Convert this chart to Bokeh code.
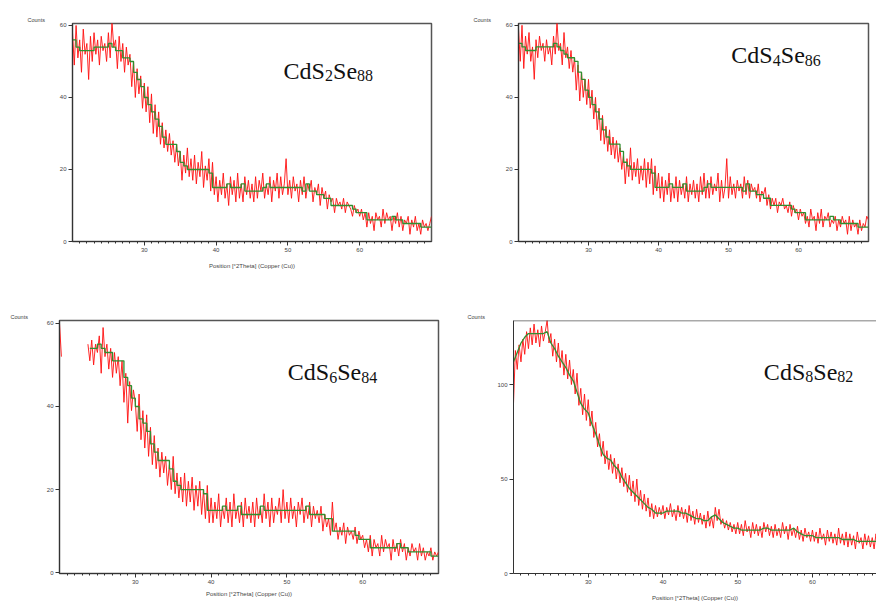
import numpy as np
from bokeh.plotting import figure
from bokeh.layouts import column, row
from bokeh.models import Range1d, FixedTicker, Label, Span, Title
from bokeh.embed import file_html
from bokeh.resources import INLINE

nan = float("nan")

# 2-theta scan grids (degrees)
two_theta = np.linspace(20, 70, 201)      # red raw scan, 0.25 deg step
two_theta_bg = np.linspace(20, 70, 101)   # green stepped profile, 0.5 deg step

x_major = [30, 40, 50, 60]
x_minor = list(range(21, 70))

samples = [("CdS", "2", "Se", "88"), ("CdS", "4", "Se", "86"),
           ("CdS", "6", "Se", "84"), ("CdS", "8", "Se", "82")]

counts_1 = [
    58, 49, 60, 51, 56, 47, 59, 52, 55, 45, 57, 50, 58, 52, 56, 49, 57, 53, 55, 50,
    58, 51, 61, 54, 56, 48, 57, 50, 55, 47, 54, 49, 52, 43, 50, 40, 48, 41, 46, 37,
    44, 36, 43, 33, 41, 30, 38, 29, 36, 27, 33, 26, 31, 25, 30, 24, 28, 22, 27, 21,
    25, 17, 24, 19, 26, 18, 23, 17, 24, 16, 22, 18, 25, 15, 21, 17, 23, 14, 22, 13,
    18, 11, 17, 13, 19, 12, 16, 10, 18, 13, 17, 11, 19, 12, 16, 11, 18, 13, 17, 12,
    16, 11, 18, 12, 17, 14, 19, 12, 16, 13, 18, 11, 17, 14, 19, 12, 18, 13, 16, 23,
    13, 17, 12, 18, 14, 16, 11, 17, 13, 18, 12, 16, 14, 17, 11, 15, 13, 16, 10, 15,
    12, 14, 9, 13, 11, 12, 8, 12, 10, 11, 9, 12, 8, 11, 10, 9, 7, 10, 8, 9,
    7, 9, 6, 8, 4, 8, 5, 7, 3, 8, 6, 7, 4, 9, 5, 8, 6, 7, 3, 7,
    5, 8, 4, 7, 3, 6, 5, 7, 2, 6, 4, 7, 3, 5, 2, 6, 4, 5, 3, 5,
    7]
bg_1 = [
    56, 54, 53, 53, 53, 53, 54, 54, 54, 54,
    55, 54, 53, 53, 51, 51, 50, 47, 45, 43,
    40, 38, 36, 34, 32, 29, 27, 27, 27, 25,
    22, 21, 20, 20, 20, 20, 20, 20, 19, 15,
    15, 15, 15, 16, 15, 15, 15, 16, 14, 14,
    14, 14, 14, 15, 16, 15, 15, 15, 15, 15,
    15, 15, 15, 15, 14, 16, 14, 14, 13, 13,
    12, 12, 10, 10, 10, 10, 10, 10, 9, 8,
    8, 8, 6, 6, 6, 6, 6, 6, 6, 7,
    6, 6, 5, 5, 5, 5, 5, 4, 4, 4,
    4]

counts_2 = [
    59, 50, 60, 48, 57, 52, 58, 50, 54, 45, 56, 51, 57, 53, 55, 50, 56, 52, 54, 49,
    57, 52, 61, 53, 55, 49, 58, 51, 54, 48, 53, 47, 51, 42, 49, 39, 47, 40, 45, 38,
    45, 37, 42, 34, 40, 31, 37, 28, 35, 27, 32, 25, 31, 24, 29, 23, 28, 22, 26, 20,
    24, 16, 23, 18, 26, 17, 22, 18, 23, 16, 21, 17, 23, 15, 22, 16, 23, 13, 21, 14,
    19, 12, 18, 11, 17, 13, 19, 11, 16, 12, 18, 11, 17, 13, 16, 12, 18, 11, 16, 13,
    17, 12, 16, 11, 18, 13, 19, 12, 17, 12, 18, 13, 16, 14, 19, 11, 17, 12, 15, 23,
    12, 18, 13, 16, 12, 17, 14, 16, 12, 18, 13, 17, 12, 16, 14, 15, 12, 16, 11, 14,
    13, 15, 10, 13, 9, 12, 10, 12, 8, 11, 10, 12, 9, 10, 8, 11, 7, 10, 8, 9,
    6, 9, 7, 8, 5, 7, 4, 9, 6, 7, 3, 8, 5, 9, 4, 7, 6, 8, 4, 6,
    5, 7, 3, 6, 4, 7, 5, 6, 2, 7, 3, 6, 4, 5, 2, 6, 3, 5, 4, 7,
    6]
bg_2 = [
    55, 54, 53, 53, 53, 54, 54, 54, 54, 54,
    55, 54, 53, 52, 51, 51, 50, 47, 45, 42,
    40, 38, 36, 34, 31, 29, 27, 27, 27, 25,
    22, 21, 20, 20, 20, 20, 20, 20, 19, 15,
    15, 15, 15, 16, 15, 15, 15, 16, 14, 14,
    14, 14, 14, 15, 16, 15, 15, 15, 15, 15,
    15, 15, 15, 15, 14, 16, 14, 14, 13, 13,
    12, 12, 10, 10, 10, 10, 10, 10, 9, 8,
    8, 8, 6, 6, 6, 6, 6, 6, 6, 7,
    6, 6, 5, 5, 5, 5, 5, 4, 4, 4,
    4]

counts_3 = [
    60, 52, nan, nan, nan, nan, nan, nan, nan, nan, nan, nan, nan, nan, nan, 55, 51, 56, 50, 55,
    53, 57, 48, 59, 52, 55, 49, 54, 47, 53, 48, 52, 45, 51, 41, 48, 36, 46, 39, 44,
    41, 34, 43, 32, 39, 30, 38, 28, 35, 26, 33, 25, 30, 23, 29, 24, 28, 21, 26, 20,
    28, 19, 24, 18, 23, 17, 24, 16, 22, 17, 23, 15, 21, 16, 22, 14, 20, 13, 21, 12,
    18, 12, 17, 13, 19, 11, 16, 13, 18, 12, 17, 11, 19, 13, 16, 12, 17, 11, 18, 13,
    16, 12, 17, 11, 18, 13, 16, 12, 19, 13, 17, 11, 18, 12, 16, 14, 18, 12, 20, 13,
    17, 12, 18, 13, 16, 11, 17, 14, 18, 12, 16, 13, 17, 11, 16, 13, 15, 12, 16, 10,
    14, 11, 13, 9, 17, 10, 12, 8, 11, 9, 12, 7, 11, 9, 10, 8, 11, 7, 10, 8,
    9, 6, 8, 5, 9, 4, 8, 6, 7, 4, 9, 5, 8, 6, 7, 3, 8, 5, 7, 4,
    8, 5, 7, 3, 6, 4, 7, 5, 6, 3, 7, 4, 6, 3, 5, 4, 6, 3, 5, 4,
    5]
bg_3 = [
    nan, nan, nan, nan, nan, nan, nan, nan, 54, 54,
    55, 54, 53, 53, 51, 51, 51, 47, 45, 42,
    40, 37, 36, 34, 31, 29, 27, 27, 27, 25,
    22, 21, 20, 20, 20, 20, 20, 20, 19, 15,
    15, 15, 15, 16, 15, 15, 15, 16, 14, 14,
    14, 14, 14, 16, 15, 15, 15, 15, 15, 15,
    15, 15, 15, 15, 15, 16, 14, 14, 14, 14,
    13, 13, 10, 10, 10, 10, 10, 10, 9, 8,
    8, 8, 6, 6, 6, 6, 6, 6, 6, 7,
    6, 6, 5, 5, 5, 5, 5, 5, 4, 4,
    4]

counts_4 = [
    90, 118, 108, 121, 112, 124, 116, 128, 119, 130, 121, 132, 122, 129, 120, 131, 123, 128, 134, 122,
    127, 115, 124, 112, 122, 109, 118, 105, 116, 103, 113, 100, 108, 95, 106, 89, 98, 84, 95, 81,
    92, 78, 86, 72, 80, 67, 74, 62, 70, 58, 65, 55, 63, 53, 61, 50, 58, 48, 56, 46,
    53, 43, 52, 41, 49, 38, 50, 36, 44, 34, 42, 33, 40, 30, 37, 29, 36, 30, 35, 31,
    36, 29, 35, 31, 37, 30, 34, 28, 36, 30, 35, 29, 34, 27, 36, 28, 33, 26, 34, 27,
    32, 26, 31, 24, 33, 25, 30, 24, 35, 28, 34, 26, 29, 24, 28, 23, 27, 22, 26, 21,
    27, 21, 26, 20, 28, 22, 25, 19, 27, 21, 26, 20, 25, 19, 27, 22, 26, 20, 25, 19,
    26, 20, 24, 19, 27, 21, 25, 18, 26, 20, 24, 19, 25, 18, 23, 17, 24, 19, 22, 17,
    23, 17, 22, 16, 24, 18, 21, 15, 23, 17, 22, 16, 21, 15, 24, 16, 21, 15, 22, 14,
    21, 15, 20, 13, 22, 16, 19, 13, 21, 15, 20, 14, 19, 13, 21, 15, 19, 14, 20, 15,
    18]
bg_4 = [
    112, 117, 122, 125, 127, 127, 127, 127, 127, 128,
    122, 119, 115, 112, 109, 105, 102, 96, 90, 87,
    85, 79, 74, 68, 63, 61, 60, 57, 55, 51,
    48, 45, 43, 41, 39, 37, 35, 34, 32, 32,
    32, 33, 33, 33, 33, 32, 32, 31, 30, 29,
    29, 28, 28, 30, 31, 29, 27, 26, 25, 24,
    24, 23, 23, 23, 23, 23, 23, 24, 24, 23,
    23, 23, 23, 23, 23, 24, 22, 21, 20, 20,
    20, 19, 19, 19, 19, 19, 19, 19, 18, 18,
    18, 18, 17, 17, 17, 17, 17, 17, 17, 16,
    16]

RED = "#ff1010"
GREEN = "#2f8f2f"
AXIS = "#333333"


def panel(w, h, bl, br, bt, bb, xr, yr, yticks, counts, bg, sample,
          lab_xy, counts_pos, xlabel=True, label_standoff=8,
          smooth_bg=False, cut_right=False):
    p = figure(width=w, height=h, x_range=Range1d(*xr), y_range=Range1d(*yr),
               output_backend="svg", toolbar_location=None, tools="", title=None,
               min_border_left=bl, min_border_right=br,
               min_border_top=bt, min_border_bottom=bb)
    p.background_fill_color = "white"
    p.border_fill_color = "white"
    p.xgrid.visible = False
    p.ygrid.visible = False
    if cut_right:
        p.outline_line_color = None
        p.add_layout(Span(location=yr[1], dimension="width",
                          line_color="#555555", line_width=1.5))
    else:
        p.outline_line_color = "#555555"
        p.outline_line_width = 1.5

    p.xaxis.ticker = FixedTicker(ticks=x_major, minor_ticks=x_minor)
    p.yaxis.ticker = FixedTicker(ticks=yticks, minor_ticks=[])
    for ax in (p.xaxis, p.yaxis):
        ax.axis_line_color = AXIS
        ax.axis_line_width = 1
        ax.major_tick_line_color = AXIS
        ax.minor_tick_line_color = AXIS
        ax.major_tick_out = 4
        ax.major_tick_in = 0
        ax.minor_tick_out = 2
        ax.minor_tick_in = 0
        ax.major_label_text_font_size = "6px"
        ax.major_label_text_color = "#444444"
        ax.major_label_text_font = "Liberation Sans"
        ax.major_label_standoff = 2
    p.yaxis.minor_tick_line_color = None
    if xlabel:
        p.xaxis.axis_label = "Position [°2Theta] (Copper (Cu))"
        p.xaxis.axis_label_text_font_size = "6px"
        p.xaxis.axis_label_text_font_style = "normal"
        p.xaxis.axis_label_text_font = "Liberation Sans"
        p.xaxis.axis_label_text_color = "#444444"
        p.xaxis.axis_label_standoff = label_standoff

    p.line(two_theta, counts, line_color=RED, line_width=1, line_alpha=0.9)
    if smooth_bg:
        p.line(two_theta_bg, bg, line_color=GREEN, line_width=1.3)
    else:
        p.step(two_theta_bg, bg, line_color=GREEN, line_width=1.3, mode="after")

    a, s1, b, s2 = sample
    lx, ly = lab_xy
    parts = [(a, 0, 0, "24px"), (s1, 41.5, -5, "16px"),
             (b, 49.5, 0, "24px"), (s2, 73.5, -5, "16px")]
    for t, dx, dy, fs in parts:
        p.add_layout(Label(x=lx, y=ly, text=t, x_offset=dx, y_offset=dy,
                           text_font="Liberation Serif", text_font_size=fs,
                           text_color="#111111", text_baseline="alphabetic",
                           text_align="left"))
    off, stand = counts_pos
    p.add_layout(Title(text="Counts", align="left", offset=off, standoff=stand,
                       text_font="Liberation Sans", text_font_size="5.5px",
                       text_font_style="normal", text_color="#444444"), "above")
    return p


p1 = panel(440, 300, 72, 9, 20, 59, (20, 70), (0, 60.55), [0, 20, 40, 60],
           counts_1, bg_1, samples[0], (49.4, 47.4), (-45, 2))
p2 = panel(436, 300, 78, 8, 23, 37, (20, 70), (0, 60.5), [0, 20, 40, 60],
           counts_2, bg_2, samples[1], (50.4, 51.7), (-45, 2), xlabel=False)
p3 = panel(440, 312, 59, 2, 18, 27, (20, 70), (-0.2, 60.7), [0, 20, 40, 60],
           counts_3, bg_3, samples[2], (50.1, 48.2), (-49, 2),
           label_standoff=4)
p4 = panel(436, 312, 73, 0, 20, 39, (20, 68.57), (0, 133.9), [0, 50, 100],
           counts_4, bg_4, samples[3], (53.5, 106.9), (-46, 2),
           smooth_bg=True, cut_right=True)

layout = column(row(p1, p2, spacing=0), row(p3, p4, spacing=0), spacing=0)

open("out.html", "w").write(file_html(layout, INLINE))
